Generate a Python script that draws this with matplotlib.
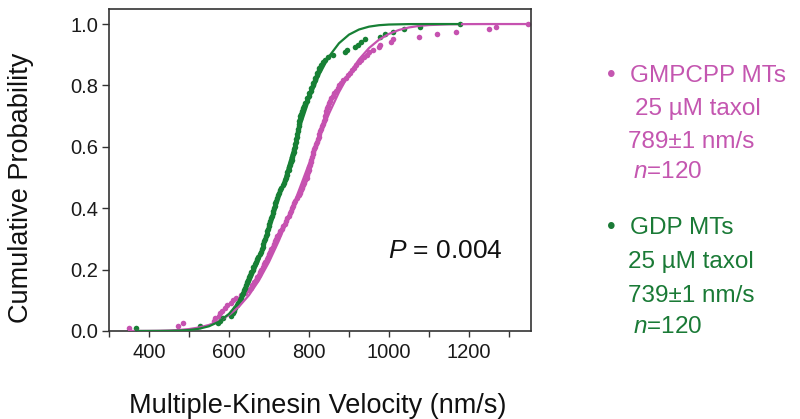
import numpy as np
import matplotlib
matplotlib.use("Agg")
import matplotlib.pyplot as plt

plt.rcParams['font.family'] = ['Liberation Sans', 'DejaVu Sans']
plt.rcParams['mathtext.fontset'] = 'custom'
plt.rcParams['mathtext.rm'] = 'Liberation Sans'
plt.rcParams['mathtext.it'] = 'Liberation Sans:italic'

# ---- data: sorted velocities (nm/s), n = 120 each ----
gmpcpp_v = [350, 473, 486, 562, 566, 575, 578, 583, 590, 596,
            604, 611, 618, 630, 640, 647, 654, 658, 663, 667,
            671, 674, 677, 681, 684, 688, 691, 694, 698, 701,
            703, 706, 709, 712, 715, 718, 721, 725, 728, 732,
            736, 740, 743, 746, 749, 752, 754, 757, 760, 763,
            765, 769, 774, 777, 780, 783, 786, 788, 791, 794,
            796, 797, 799, 801, 802, 804, 806, 807, 809, 811,
            813, 815, 817, 819, 822, 824, 826, 828, 831, 833,
            835, 837, 839, 840, 842, 843, 845, 847, 849, 852,
            855, 859, 863, 867, 872, 876, 881, 886, 892, 897,
            903, 907, 912, 917, 924, 930, 937, 944, 950, 960,
            975, 977, 1005, 1010, 1075, 1120, 1167, 1250, 1267, 1348]

gdp_v = [367, 527, 572, 578, 585, 605, 609, 613, 616, 620,
         623, 627, 630, 632, 635, 637, 640, 643, 645, 648,
         650, 653, 656, 659, 661, 664, 667, 670, 673, 677,
         680, 682, 684, 686, 688, 690, 692, 694, 696, 697,
         699, 701, 703, 705, 707, 709, 710, 712, 714, 715,
         717, 720, 722, 725, 728, 731, 734, 737, 740, 742,
         744, 746, 749, 751, 753, 755, 757, 758, 760, 762,
         763, 765, 766, 767, 768, 770, 771, 772, 773, 774,
         775, 776, 777, 778, 781, 783, 786, 788, 791, 794,
         796, 799, 801, 804, 806, 809, 811, 814, 816, 819,
         821, 824, 826, 829, 834, 840, 848, 861, 890, 896,
         915, 922, 930, 940, 977, 990, 1011, 1037, 1077, 1177]

# fitted cumulative curves
gmpcpp_fit_x = [350, 400, 425, 450, 475, 500, 525, 550, 575, 600, 625, 650,
                675, 700, 725, 750, 775, 800, 825, 850, 875, 900, 925, 950,
                975, 1000, 1025, 1050, 1075, 1100, 1150, 1200, 1250, 1348]
gmpcpp_fit_p = [0.0001, 0.0004, 0.0008, 0.0017, 0.0033, 0.0063, 0.0114, 0.0197,
                0.0327, 0.052, 0.0794, 0.1168, 0.165, 0.2247, 0.295, 0.3737,
                0.4585, 0.545, 0.6293, 0.708, 0.778, 0.837, 0.885, 0.9218,
                0.949, 0.968, 0.9808, 0.9889, 0.9939, 0.9967, 0.9992, 0.9998,
                1.0, 1.0]

gdp_fit_x = [367, 400, 425, 450, 475, 500, 525, 550, 575, 600, 625, 650, 675,
             700, 725, 750, 775, 800, 825, 850, 875, 900, 925, 950, 975, 1000,
             1050, 1100, 1177]
gdp_fit_p = [0.0, 0.0001, 0.0002, 0.0005, 0.0013, 0.0032, 0.0073, 0.0154,
             0.0304, 0.0559, 0.0951, 0.1539, 0.2297, 0.3246, 0.4325, 0.5454,
             0.6547, 0.7524, 0.833, 0.8944, 0.9375, 0.9655, 0.9822, 0.9915,
             0.9962, 0.9984, 0.9998, 1.0, 1.0]

x_ticks = [400, 600, 800, 1000, 1200]
y_ticks = [0.0, 0.2, 0.4, 0.6, 0.8, 1.0]

pink = '#c652b0'
green = '#178035'
pink_txt = '#c456b0'
green_txt = '#1a7a36'

W, H = 800, 419
fig = plt.figure(figsize=(W / 100, H / 100), dpi=100)
ax = fig.add_axes([109 / W, 1 - 331 / H, (531 - 109) / W, (331 - 9) / H])

for v, c in ((gmpcpp_v, pink), (gdp_v, green)):
    v = np.asarray(v, dtype=float)
    p = np.arange(1, len(v) + 1) / len(v)
    ax.plot(v, p, 'o', ms=4.0, mec='none', mfc=c, zorder=2)

ax.plot(gmpcpp_fit_x, gmpcpp_fit_p, color=pink, lw=1.6, zorder=3)
ax.plot(gdp_fit_x, gdp_fit_p, color=green, lw=1.6, zorder=3)

ax.set_xlim(300, 1355)
ax.set_ylim(0, 1.049)
ax.set_xticks(x_ticks)
ax.set_xticks(np.arange(300, 1301, 100), minor=True)
ax.set_yticks(y_ticks)
ax.set_yticklabels([f'{t:.1f}' for t in y_ticks])
ax.tick_params(axis='both', which='both', direction='out', color='#333333',
               width=1.0, labelsize=14.5, labelcolor='#1a1a1a')
ax.tick_params(axis='y', length=5, pad=3)
ax.tick_params(axis='x', which='both', length=4, pad=5)
for s in ax.spines.values():
    s.set_color('#333333')
    s.set_linewidth(1.2)

def ftext(x, y, s, **kw):
    fig.text(x / W, 1 - y / H, s, **kw)

ftext(388, 258, r'$\mathit{P}$ = 0.004', fontsize=19, ha='left', va='baseline',
      color='#111111')

ftext(318, 413, 'Multiple-Kinesin Velocity (nm/s)', fontsize=19.5,
      ha='center', va='baseline', color='#111111')
ftext(21, 188, 'Cumulative Probability', fontsize=19.5, rotation=90,
      ha='center', va='center', color='#111111')

fs = 17.5
ftext(611, 82, '•', fontsize=fs, ha='center', va='baseline', color=pink_txt)
ftext(630, 82, 'GMPCPP MTs', fontsize=fs, ha='left', va='baseline', color=pink_txt)
ftext(635, 115, '25 µM taxol', fontsize=fs, ha='left', va='baseline', color=pink_txt)
ftext(628, 148, '789±1 nm/s', fontsize=fs, ha='left', va='baseline', color=pink_txt)
ftext(633, 178, r'$\mathit{n}$=120', fontsize=fs, ha='left', va='baseline', color=pink_txt)

ftext(611, 234, '•', fontsize=fs, ha='center', va='baseline', color=green_txt)
ftext(630, 234, 'GDP MTs', fontsize=fs, ha='left', va='baseline', color=green_txt)
ftext(628, 268, '25 µM taxol', fontsize=fs, ha='left', va='baseline', color=green_txt)
ftext(628, 302, '739±1 nm/s', fontsize=fs, ha='left', va='baseline', color=green_txt)
ftext(633, 333, r'$\mathit{n}$=120', fontsize=fs, ha='left', va='baseline', color=green_txt)

fig.savefig('out.png', dpi=100)
